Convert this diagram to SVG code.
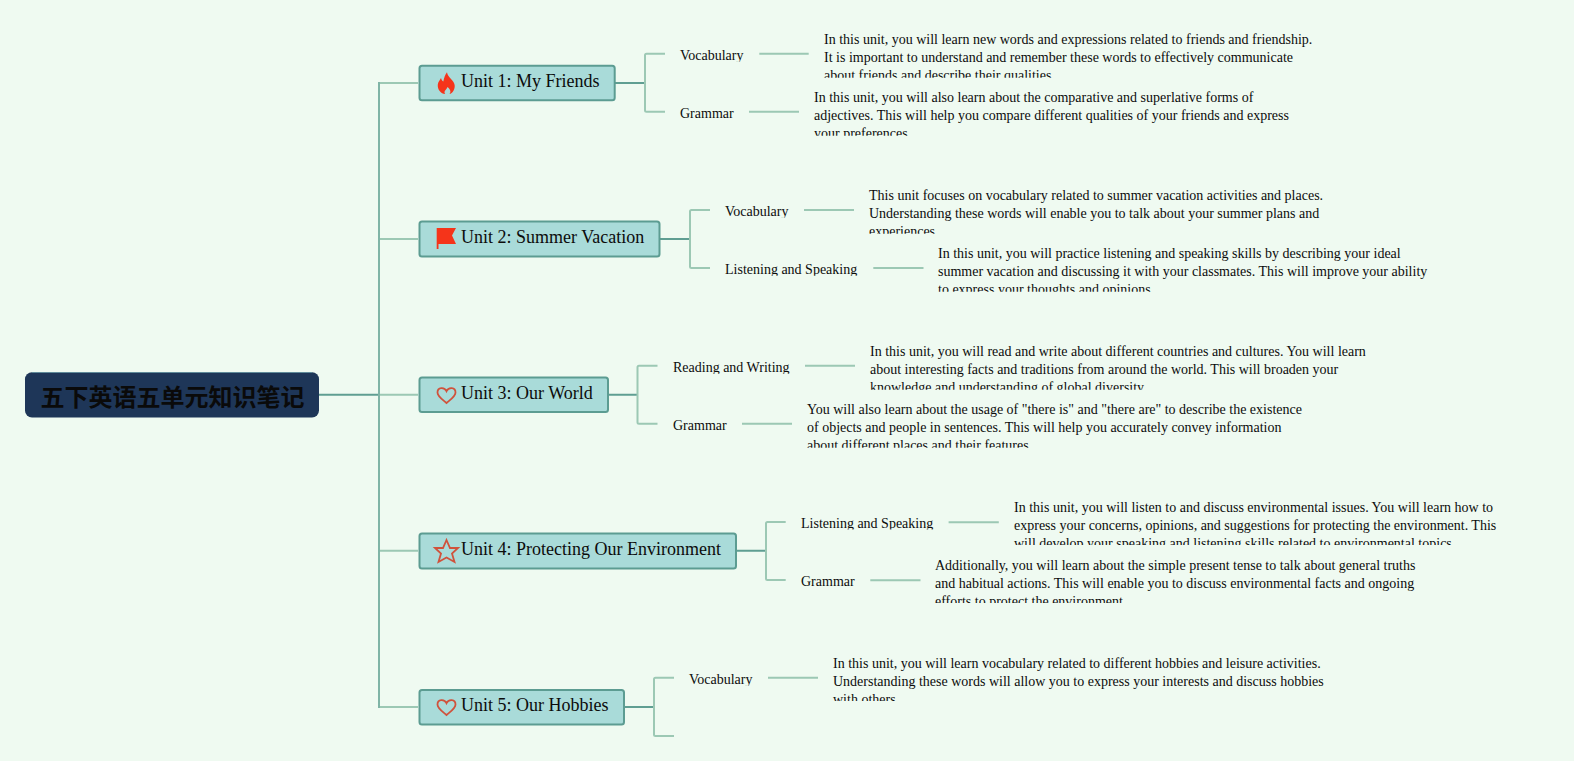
<svg xmlns="http://www.w3.org/2000/svg" width="1574" height="761" viewBox="0 0 1574 761">
<style>
text{font-family:"Liberation Serif","Noto Sans CJK SC",serif;fill:#0c0c0c}
.d{font-size:14px}
.l{font-size:14px}
.u{font-size:18px}
.r{font-size:24px;font-weight:700;fill:#0a0a0a}
.box{fill:#a9dbd9;stroke:#5c9c92;stroke-width:2}
.root{fill:#1e3658}
.c{fill:none;stroke:#9cc8b4;stroke-width:2}
.k{fill:none;stroke:#5f9e92;stroke-width:2}
.t{fill:none;stroke:#7fb4a6;stroke-width:2}
.ic{fill:none;stroke:#d0523c;stroke-width:1.8}
</style>
<defs>
<clipPath id="c1a"><rect x="800" y="30" width="760" height="47.7"/></clipPath>
<clipPath id="c1b"><rect x="800" y="88" width="760" height="47.7"/></clipPath>
<clipPath id="c2a"><rect x="800" y="186" width="760" height="47.7"/></clipPath>
<clipPath id="c2b"><rect x="800" y="244" width="760" height="47.7"/></clipPath>
<clipPath id="c3a"><rect x="800" y="342" width="760" height="47.7"/></clipPath>
<clipPath id="c3b"><rect x="800" y="400" width="760" height="47.7"/></clipPath>
<clipPath id="c4a"><rect x="900" y="497" width="660" height="48"/></clipPath>
<clipPath id="c4b"><rect x="900" y="555" width="660" height="48"/></clipPath>
<clipPath id="c5a"><rect x="800" y="653" width="760" height="48"/></clipPath>
<clipPath id="lab"><path d="M660 40H1000V61.8H660ZM660 98H1000V119.8H660ZM700 196H1000V217.8H700ZM700 254H1000V275.8H700ZM660 352H1000V373.8H660ZM660 410H1000V431.8H660ZM790 507H1000V529.5H790ZM790 565H1000V587.5H790ZM670 664H1000V685.8H670Z"/></clipPath>
<path id="heart" class="ic" d="M0 7C-4 3.5-9 0.5-9-3.5C-9-9-2-9.2 0-4.8C2-9.2 9-9 9-3.5C9 0.5 4 3.5 0 7Z"/>
</defs>
<rect width="1574" height="761" fill="#effaf1"/>
<g id="connectors">
<path class="k" d="M319 394.7H379"/>
<path class="c" d="M379 394.7H418M379 83H418M379 239H418M379 550.8H418M379 707H418"/>
<path class="t" d="M379 82V708"/>
<path class="k" d="M615 83H645M660 239H690M608 394.7H637.5M736 550.8H766M624.5 707H654"/>
<path class="c" d="M665 53.7H646.5Q645 53.7 645 55.2V110.2Q645 111.7 646.5 111.7H665"/>
<path class="c" d="M710 210H691.5Q690 210 690 211.5V266.5Q690 268 691.5 268H710"/>
<path class="c" d="M657.5 365.7H639Q637.5 365.7 637.5 367.2V422.2Q637.5 423.7 639 423.7H657.5"/>
<path class="c" d="M785.7 522H767.5Q766 522 766 523.5V578.5Q766 580 767.5 580H785.7"/>
<path class="c" d="M674 677.7H655.5Q654 677.7 654 679.2V734.5Q654 736 655.5 736H674"/>
<path class="c" d="M759.3 53.7H808.7M749 111.7H799M804 210H854M873.3 268H923.5M805 365.7H855M742 423.7H792M948.6 522.2H998.8M870.3 580.2H920.5M768 677.7H818"/>
</g>
<g id="root"><rect class="root" x="25" y="372.3" width="294" height="45.2" rx="7"/><path d="M32 372.5H312" fill="none" stroke="#5f8a9a" stroke-width="1"/><text class="r" x="40.5" y="405.8">五下英语五单元知识笔记</text></g>
<g id="unit1"><rect class="box" x="419.5" y="65.7" width="195.2" height="34.6" rx="2.5"/>
<path fill="#f5341a" d="M447 72.3C447.5 76.5 452 79 454 83C456.5 88.5 452 93.8 449.5 94C451 92 450.8 89.8 447.5 87C447 89 445 90 444.6 91.5C444.3 92.5 444.8 93.4 445.2 94C441 93.8 437.2 89.5 437.8 84.5C438.2 81.5 440 80 441 78C441.5 80 442.3 81 443.3 81.5C444 78 445 75 447 72.3Z"/>
<text class="u" x="461" y="87.2">Unit 1: My Friends</text></g>
<g id="unit2"><rect class="box" x="419.5" y="221.5" width="240" height="35" rx="2.5"/>
<path fill="#f5341a" d="M436.7 228H456L452 235.5L456 244H438.5V249H436.7Z"/>
<text class="u" x="461" y="243">Unit 2: Summer Vacation</text></g>
<g id="unit3"><rect class="box" x="419.5" y="377.5" width="188.5" height="34.5" rx="2.5"/>
<use href="#heart" x="446.5" y="396"/>
<text class="u" x="461" y="398.5">Unit 3: Our World</text></g>
<g id="unit4"><rect class="box" x="419.5" y="533.5" width="316.5" height="35" rx="2.5"/>
<path class="ic" d="M446.5 540L450 548H458L452 553.5L454.5 562L446.5 557.5L438.5 562L441 553.5L435 548H443Z"/>
<text class="u" x="461" y="554.5">Unit 4: Protecting Our Environment</text></g>
<g id="unit5"><rect class="box" x="419.5" y="690" width="204.5" height="34.5" rx="2.5"/>
<use href="#heart" x="446.5" y="708"/>
<text class="u" x="461" y="711">Unit 5: Our Hobbies</text></g>
<g clip-path="url(#lab)">
<text id="l1a" class="l" x="680" y="60">Vocabulary</text>
<text id="l1b" class="l" x="680" y="118">Grammar</text>
<text id="l2a" class="l" x="725" y="216">Vocabulary</text>
<text id="l2b" class="l" x="725" y="274">Listening and Speaking</text>
<text id="l3a" class="l" x="673" y="372">Reading and Writing</text>
<text id="l3b" class="l" x="673" y="430">Grammar</text>
<text id="l4a" class="l" x="801" y="527.7">Listening and Speaking</text>
<text id="l4b" class="l" x="801" y="585.7">Grammar</text>
<text id="l5a" class="l" x="689" y="684">Vocabulary</text>
</g>
<g id="d1a" clip-path="url(#c1a)"><text class="d" x="824" y="44">In this unit, you will learn new words and expressions related to friends and friendship.</text><text class="d" x="824" y="62">It is important to understand and remember these words to effectively communicate</text><text class="d" x="824" y="80">about friends and describe their qualities.</text></g>
<g id="d1b" clip-path="url(#c1b)"><text class="d" x="814" y="102">In this unit, you will also learn about the comparative and superlative forms of</text><text class="d" x="814" y="120">adjectives. This will help you compare different qualities of your friends and express</text><text class="d" x="814" y="138">your preferences.</text></g>
<g id="d2a" clip-path="url(#c2a)"><text class="d" x="869" y="200">This unit focuses on vocabulary related to summer vacation activities and places.</text><text class="d" x="869" y="218">Understanding these words will enable you to talk about your summer plans and</text><text class="d" x="869" y="236">experiences.</text></g>
<g id="d2b" clip-path="url(#c2b)"><text class="d" x="938" y="258">In this unit, you will practice listening and speaking skills by describing your ideal</text><text class="d" x="938" y="276">summer vacation and discussing it with your classmates. This will improve your ability</text><text class="d" x="938" y="294">to express your thoughts and opinions.</text></g>
<g id="d3a" clip-path="url(#c3a)"><text class="d" x="870" y="356">In this unit, you will read and write about different countries and cultures. You will learn</text><text class="d" x="870" y="374">about interesting facts and traditions from around the world. This will broaden your</text><text class="d" x="870" y="392">knowledge and understanding of global diversity.</text></g>
<g id="d3b" clip-path="url(#c3b)"><text class="d" x="807" y="414">You will also learn about the usage of "there is" and "there are" to describe the existence</text><text class="d" x="807" y="432">of objects and people in sentences. This will help you accurately convey information</text><text class="d" x="807" y="450">about different places and their features.</text></g>
<g id="d4a" clip-path="url(#c4a)"><text class="d" x="1014" y="512">In this unit, you will listen to and discuss environmental issues. You will learn how to</text><text class="d" x="1014" y="530">express your concerns, opinions, and suggestions for protecting the environment. This</text><text class="d" x="1014" y="548">will develop your speaking and listening skills related to environmental topics.</text></g>
<g id="d4b" clip-path="url(#c4b)"><text class="d" x="935" y="570">Additionally, you will learn about the simple present tense to talk about general truths</text><text class="d" x="935" y="588">and habitual actions. This will enable you to discuss environmental facts and ongoing</text><text class="d" x="935" y="606">efforts to protect the environment.</text></g>
<g id="d5a" clip-path="url(#c5a)"><text class="d" x="833" y="668">In this unit, you will learn vocabulary related to different hobbies and leisure activities.</text><text class="d" x="833" y="686">Understanding these words will allow you to express your interests and discuss hobbies</text><text class="d" x="833" y="704">with others.</text></g>
</svg>
